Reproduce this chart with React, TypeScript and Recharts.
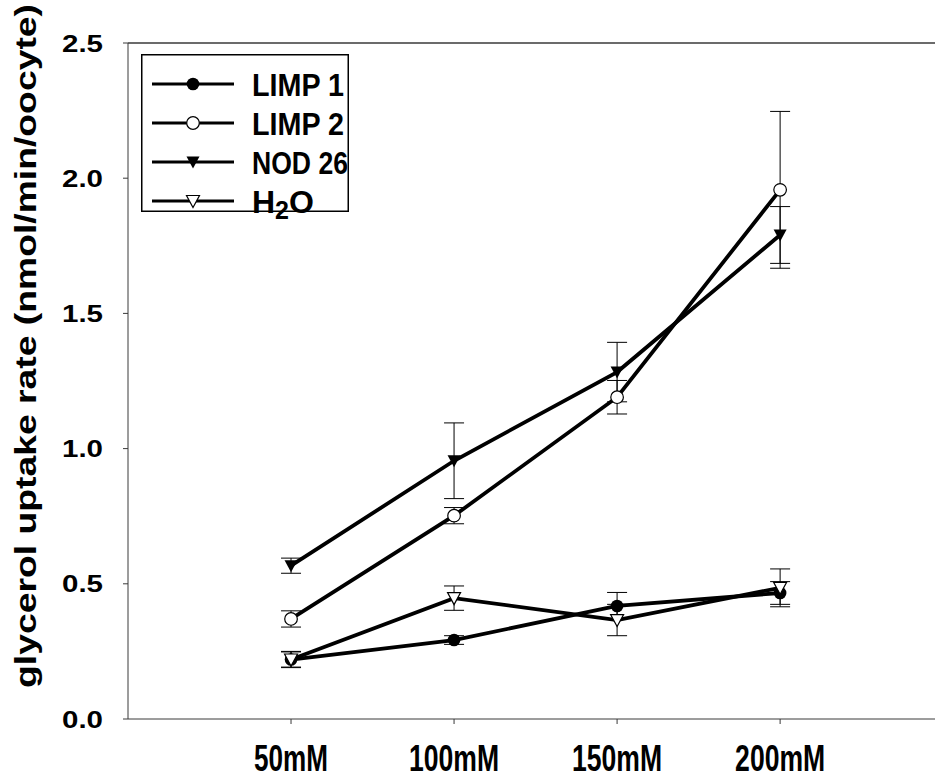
import React from "react";
import {
  LineChart,
  Line,
  XAxis,
  YAxis,
  ErrorBar,
  Legend,
  ReferenceLine,
} from "recharts";

// glycerol concentration steps, placed at 1..4 on a numeric x scale
const dosePositions = [1, 2, 3, 4];
const doseLabels = ["50mM", "100mM", "150mM", "200mM"];
const yTicks = [0, 0.5, 1, 1.5, 2, 2.5];

// uptake rates (nmol/min/oocyte) and their error bars
const limp1 = [0.22, 0.292, 0.418, 0.466];
const limp1Err = [0.028, 0.016, 0.05, 0.042];
const limp2 = [0.37, 0.752, 1.19, 1.957];
const limp2Err = [0.03, 0.03, 0.062, 0.29];
const nod26 = [0.567, 0.955, 1.283, 1.79];
const nod26Err = [0.028, 0.14, 0.11, 0.105];
const h2o = [0.22, 0.447, 0.366, 0.485];
const h2oErr = [0.03, 0.045, 0.058, 0.07];

const data = dosePositions.map((x, i) => ({
  x,
  limp1: limp1[i],
  limp1Err: limp1Err[i],
  limp2: limp2[i],
  limp2Err: limp2Err[i],
  nod26: nod26[i],
  nod26Err: nod26Err[i],
  h2o: h2o[i],
  h2oErr: h2oErr[i],
}));

type MarkerKind = "dot" | "ring" | "tri" | "openTri";

const series: { key: string; name: string; marker: MarkerKind }[] = [
  { key: "limp1", name: "LIMP 1", marker: "dot" },
  { key: "limp2", name: "LIMP 2", marker: "ring" },
  { key: "nod26", name: "NOD 26", marker: "tri" },
  { key: "h2o", name: "H2O", marker: "openTri" },
];

const FONT = "'Liberation Sans', Arial, Helvetica, sans-serif";
const AXIS = "#3a3a3a";

function Marker({ kind, cx, cy }: { kind: MarkerKind; cx: number; cy: number }) {
  if (kind === "dot") return <circle cx={cx} cy={cy} r={6.3} fill="#000" />;
  if (kind === "ring")
    return <circle cx={cx} cy={cy} r={6.3} fill="#fff" stroke="#000" strokeWidth={1.2} />;
  const pts = `${cx - 6.5},${cy - 5.5} ${cx + 6.5},${cy - 5.5} ${cx},${cy + 6.5}`;
  if (kind === "tri") return <polygon points={pts} fill="#000" />;
  return <polygon points={pts} fill="#fff" stroke="#000" strokeWidth={1.2} />;
}

function YTick(props: any) {
  const { x, y, payload } = props;
  return (
    <text
      x={x}
      y={y + 8.5}
      textAnchor="end"
      fontFamily={FONT}
      fontWeight="bold"
      fontSize={24}
      textLength={41}
      lengthAdjust="spacingAndGlyphs"
      fill="#000"
    >
      {Number(payload.value).toFixed(1)}
    </text>
  );
}

function XTick(props: any) {
  const { x, y, payload } = props;
  const label = doseLabels[dosePositions.indexOf(payload.value)] ?? "";
  return (
    <text
      x={x}
      y={y + 43}
      textAnchor="middle"
      fontFamily={FONT}
      fontWeight="bold"
      fontSize={37}
      textLength={label.length > 4 ? 90 : 74}
      lengthAdjust="spacingAndGlyphs"
      fill="#000"
    >
      {label}
    </text>
  );
}

function YLabel() {
  return (
    <text
      transform="translate(36, 346) rotate(-90)"
      textAnchor="middle"
      fontFamily={FONT}
      fontWeight="bold"
      fontSize={29}
      textLength={684}
      lengthAdjust="spacingAndGlyphs"
      fill="#000"
    >
      glycerol uptake rate (nmol/min/oocyte)
    </text>
  );
}

function LegendBox() {
  const rowY = [30, 69, 108, 147];
  return (
    <svg width={208} height={158} style={{ display: "block", overflow: "visible" }}>
      <rect x={0.75} y={0.75} width={206.5} height={156.5} fill="#fff" stroke="#000" strokeWidth={1.5} />
      {series.map((s, i) => (
        <g key={s.key}>
          <line x1={11} x2={93} y1={rowY[i]} y2={rowY[i]} stroke="#000" strokeWidth={3} />
          <Marker kind={s.marker} cx={52} cy={rowY[i]} />
          <text
            x={111}
            y={rowY[i] + 11.5}
            fontFamily={FONT}
            fontWeight="bold"
            fontSize={32}
            fill="#000"
            textLength={s.key === "h2o" ? undefined : s.key === "nod26" ? 96 : 92}
            lengthAdjust="spacingAndGlyphs"
          >
            {s.key === "h2o" ? (
              <>
                H<tspan dy={6} fontSize={25}>2</tspan>
                <tspan dy={-6}>O</tspan>
              </>
            ) : (
              s.name
            )}
          </text>
        </g>
      ))}
    </svg>
  );
}

export default function App() {
  return (
    <div style={{ position: "absolute", left: 0, top: 0, width: 935, height: 780, background: "#fff" }}>
      <LineChart
        width={935}
        height={780}
        data={data}
        margin={{ top: 43, right: 0, bottom: 0, left: 0 }}
      >
        <XAxis
          dataKey="x"
          type="number"
          domain={[0, 4.95]}
          ticks={dosePositions}
          height={61}
          tickSize={5}
          tickMargin={4}
          stroke={AXIS}
          tickLine={{ stroke: AXIS }}
          tick={<XTick />}
        />
        <YAxis
          type="number"
          domain={[0, 2.5]}
          ticks={yTicks}
          width={128}
          tickSize={5}
          tickMargin={20}
          stroke={AXIS}
          tickLine={{ stroke: AXIS }}
          tick={<YTick />}
          label={<YLabel />}
        />
        <ReferenceLine y={2.5} stroke={AXIS} strokeWidth={1.5} />
        {series.map((s) => (
          <Line
            key={s.key}
            dataKey={s.key}
            name={s.name}
            type="linear"
            stroke="#000"
            strokeWidth={3.8}
            isAnimationActive={false}
            dot={(p: any) => (
              <Marker key={`${s.key}-${p.index}`} kind={s.marker} cx={p.cx} cy={p.cy} />
            )}
            activeDot={false}
          >
            <ErrorBar dataKey={`${s.key}Err`} width={10} stroke="#000" strokeWidth={1} direction="y" />
          </Line>
        ))}
        <Legend
          layout="horizontal"
          verticalAlign="middle"
          align="center"
          content={() => <LegendBox />}
          wrapperStyle={{ position: "absolute", left: 141, top: 54, width: 208, height: 158 }}
        />
      </LineChart>
    </div>
  );
}
